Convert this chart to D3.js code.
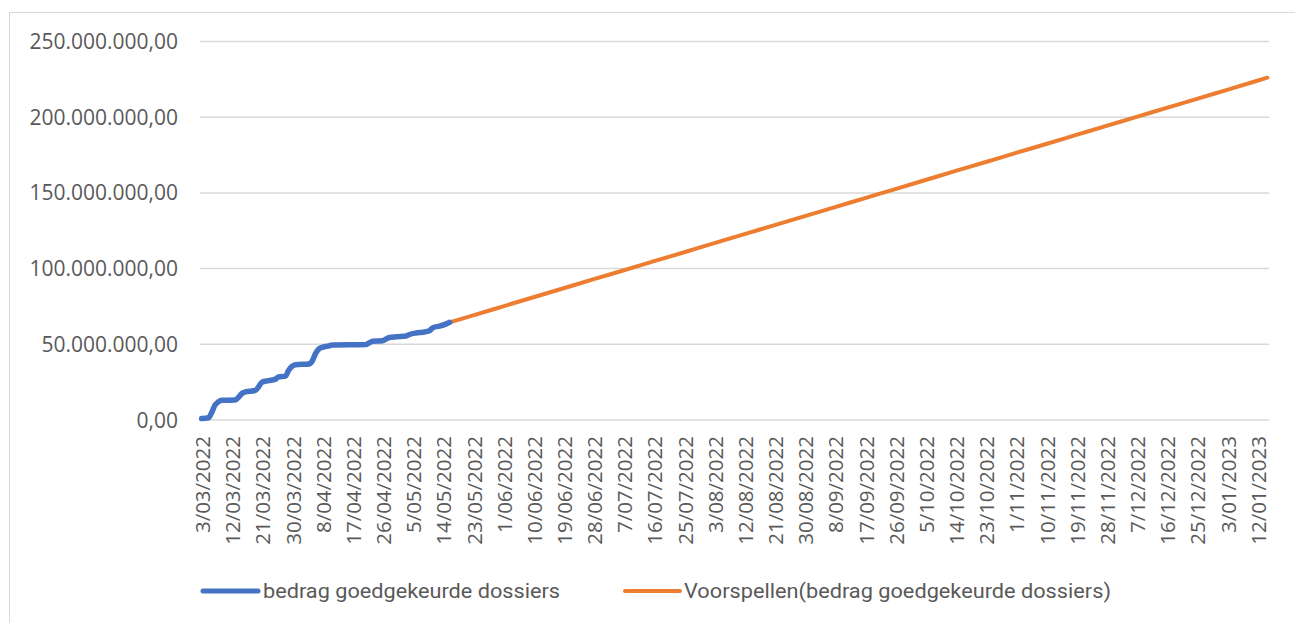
<!DOCTYPE html>
<html>
<head>
<meta charset="utf-8">
<script src="https://cdn.jsdelivr.net/npm/d3@7"></script>
<style>
  body { margin: 0; background: #fff; }
  svg { display: block; }
</style>
</head>
<body>
<svg id="chart"></svg>
<script>
const actualDates = ["3/03/2022","5/03/2022","6/03/2022","7/03/2022","8/03/2022","9/03/2022","13/03/2022","14/03/2022","15/03/2022","16/03/2022","19/03/2022","20/03/2022","21/03/2022","23/03/2022","25/03/2022","26/03/2022","28/03/2022","29/03/2022","30/03/2022","31/03/2022","4/04/2022","5/04/2022","6/04/2022","7/04/2022","8/04/2022","10/04/2022","11/04/2022","21/04/2022","22/04/2022","23/04/2022","26/04/2022","27/04/2022","28/04/2022","30/04/2022","3/05/2022","4/05/2022","6/05/2022","8/05/2022","10/05/2022","11/05/2022","13/05/2022","15/05/2022","16/05/2022"]
const actualValues = [1.0,1.5,5,10,12,13,13.2,15,17.5,18.5,19.5,22,25,26,27,28.5,29,33,35.5,36.5,37,39,44,47,48,49,49.5,49.8,51,52,52.3,53.5,54.5,55,55.5,56.5,57.5,58,59,61,62,63.5,64.5]

// forecast
const forecastDates = ["16/05/2022","23/05/2022","1/06/2022","10/06/2022","19/06/2022","28/06/2022","7/07/2022","16/07/2022","25/07/2022","3/08/2022","12/08/2022","21/08/2022","30/08/2022","8/09/2022","17/09/2022","26/09/2022","5/10/2022","14/10/2022","23/10/2022","1/11/2022","10/11/2022","19/11/2022","28/11/2022","7/12/2022","16/12/2022","25/12/2022","3/01/2023","12/01/2023","15/01/2023"]
const forecastValues = [64.5,69.1,75.1,81.1,87.0,93.0,98.9,104.9,110.8,116.8,122.8,128.7,134.7,140.6,146.6,152.5,158.5,164.5,170.4,176.4,182.3,188.3,194.3,200.2,206.2,212.1,218.1,224.1,226.1]

const tickLabels = ["3/03/2022","12/03/2022","21/03/2022","30/03/2022","8/04/2022","17/04/2022","26/04/2022","5/05/2022","14/05/2022","23/05/2022","1/06/2022","10/06/2022","19/06/2022","28/06/2022","7/07/2022","16/07/2022","25/07/2022","3/08/2022","12/08/2022","21/08/2022","30/08/2022","8/09/2022","17/09/2022","26/09/2022","5/10/2022","14/10/2022","23/10/2022","1/11/2022","10/11/2022","19/11/2022","28/11/2022","7/12/2022","16/12/2022","25/12/2022","3/01/2023","12/01/2023"]
const yTicks = [0, 50e6, 100e6, 150e6, 200e6, 250e6]

const seriesNames = ["bedrag goedgekeurde dossiers", "Voorspellen(bedrag goedgekeurde dossiers)"]
const seriesColors = ["#4472C4", "#ED7D31"]

const width = 1295, height = 623
const svg = d3.select("#chart").attr("width", width).attr("height", height)

const parse = d3.utcParse("%d/%m/%Y")
const start = parse("3/03/2022")
const dayIdx = s => d3.utcDay.count(start, parse(s))
const nlFormat = d3.formatLocale({decimal: ",", thousands: ".", grouping: [3], currency: ["", ""]}).format(",.2f")

const x = d3.scaleLinear().domain([-0.5, 318.5]).range([200, 1269])
const y = d3.scaleLinear().domain([0, 250e6]).range([420, 41.5])

// outer frame
svg.append("rect")
    .attr("x", 9.5).attr("y", 12.5)
    .attr("width", width).attr("height", height)
    .attr("fill", "none").attr("stroke", "#D9D9D9").attr("stroke-width", 1)

// gridlines
svg.append("g")
  .selectAll("line")
  .data(yTicks)
  .join("line")
    .attr("x1", x.range()[0]).attr("x2", x.range()[1])
    .attr("y1", d => y(d)).attr("y2", d => y(d))
    .attr("stroke", "#D9D9D9").attr("stroke-width", 1.5)

// y labels
svg.append("g")
    .attr("font-family", "Open Sans, sans-serif")
    .attr("font-size", "21px")
    .attr("fill", "#595959")
    .attr("text-anchor", "end")
  .selectAll("text")
  .data(yTicks)
  .join("text")
    .attr("x", 178)
    .attr("y", d => y(d))
    .attr("dy", "0.36em")
    .text(d => nlFormat(d))

// x labels
svg.append("g")
    .attr("font-family", "Open Sans, sans-serif")
    .attr("font-size", "20.5px")
    .attr("fill", "#595959")
    .attr("text-anchor", "end")
  .selectAll("text")
  .data(tickLabels)
  .join("text")
    .attr("transform", d => `translate(${x(dayIdx(d)) + 1},436) rotate(-90)`)
    .attr("dy", "0.36em")
    .text(d => d)

const line = d3.line()
    .x(d => x(d[0]))
    .y(d => y(d[1] * 1e6))
    .curve(d3.curveMonotoneX)

svg.append("path")
    .datum(forecastDates.map((d, i) => [dayIdx(d), forecastValues[i]]))
    .attr("d", line)
    .attr("fill", "none")
    .attr("stroke", seriesColors[1])
    .attr("stroke-width", 4)
    .attr("stroke-linecap", "round")

svg.append("path")
    .datum(actualDates.map((d, i) => [dayIdx(d), actualValues[i]]))
    .attr("d", line)
    .attr("fill", "none")
    .attr("stroke", seriesColors[0])
    .attr("stroke-width", 5.5)
    .attr("stroke-linecap", "round")
    .attr("stroke-linejoin", "round")

// legend
const legendX = [203, 625]
const legendTextLen = [297, 427]
const legend = svg.append("g")
  .selectAll("g")
  .data(seriesNames)
  .join("g")
    .attr("transform", (d, i) => `translate(${legendX[i]},591)`)

legend.append("line")
    .attr("x1", 0).attr("x2", 55)
    .attr("stroke", (d, i) => seriesColors[i])
    .attr("stroke-width", (d, i) => i == 0 ? 5 : 4)
    .attr("stroke-linecap", "round")

legend.append("text")
    .attr("x", (d, i) => i == 0 ? 60 : 59)
    .attr("dy", "0.35em")
    .attr("font-family", "Roboto, sans-serif")
    .attr("font-size", "21px")
    .attr("fill", "#595959")
    .attr("textLength", (d, i) => legendTextLen[i])
    .attr("lengthAdjust", "spacingAndGlyphs")
    .text(d => d)
</script>
</body>
</html>
